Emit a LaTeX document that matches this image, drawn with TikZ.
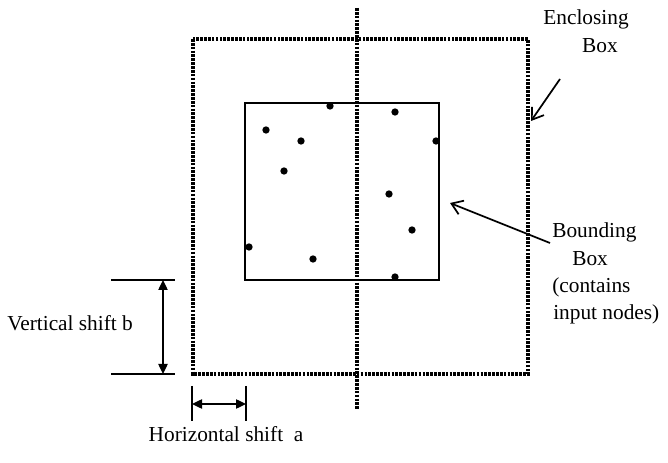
\documentclass[tikz,border=0pt]{standalone}
\usepackage{fontspec}
\setmainfont{Liberation Serif}
\usetikzlibrary{arrows.meta}
\begin{document}
\begin{tikzpicture}[x=0.75pt,y=-0.75pt,
  dotbox/.style={line width=2.4pt,dash pattern=on 2pt off 0.9pt},
  solidbox/.style={line width=1.6pt},
  dimline/.style={line width=0.8pt},
  dimarrow/.style={line width=1pt,{Triangle[length=7.5pt,width=7pt]}-{Triangle[length=7.5pt,width=7pt]}},
  callout/.style={line width=1.3pt,-{Straight Barb[length=8pt,width=11pt]}},
  lbl/.style={font=\fontsize{16}{20}\selectfont,inner sep=0pt},
  pt/.style={circle,fill=black,inner sep=0pt,minimum size=5.5pt}]
\useasboundingbox (0,0) rectangle (668,463);
% enclosing box
\draw[dotbox] (193,39) rectangle (528,374);
% vertical centre line
\draw[dotbox] (357,8) -- (357,410);
% bounding box
\draw[solidbox] (245,103) rectangle (439,280);
% input nodes
\foreach \p [count=\i] in {(330,106),(395,112),(266,130),(301,141),(436,141),(284,171),(389,194),(412,230),(249,247),(313,259),(395,277)}
  \node[pt] (n\i) at \p {};
% vertical shift
\coordinate (vt1) at (111,280); \coordinate (vt2) at (175,280);
\coordinate (vb1) at (111,374); \coordinate (vb2) at (175,374);
\draw[dimline] (vt1) -- (vt2);
\draw[dimline] (vb1) -- (vb2);
\coordinate (va) at (163,280); \coordinate (vb) at (163,374);
\draw[dimarrow] (va) -- (vb);
\node[lbl,anchor=west] (vlabel) at (7,323) {Vertical shift b};
% horizontal shift
\coordinate (hl1) at (192,386); \coordinate (hl2) at (192,421);
\coordinate (hr1) at (246,386); \coordinate (hr2) at (246,421);
\draw[dimline] (hl1) -- (hl2);
\draw[dimline] (hr1) -- (hr2);
\coordinate (ha) at (192,404); \coordinate (hb) at (246,404);
\draw[dimarrow] (ha) -- (hb);
\node[lbl] (hlabel) at (226,434) {Horizontal shift\ \ a};
% enclosing box label
\node[lbl] (enc1) at (586,19) {Enclosing};
\node[lbl] (enc2) at (600,46) {Box};
\coordinate (encpt) at (531,121);
\coordinate (encstart) at (560,79);
\draw[callout] (encstart) -- (encpt);
% bounding box label
\node[lbl,anchor=west] (bb1) at (552,232) {Bounding};
\node[lbl,anchor=west] (bb2) at (572,259) {Box};
\node[lbl,anchor=west] (bb3) at (552,287) {(contains};
\node[lbl,anchor=west] (bb4) at (553,314) {input nodes)};
\coordinate (bbstart) at (550,243);
\coordinate (bbpt) at (450,203);
\draw[callout] (bbstart) -- (bbpt);
\end{tikzpicture}
\end{document}
